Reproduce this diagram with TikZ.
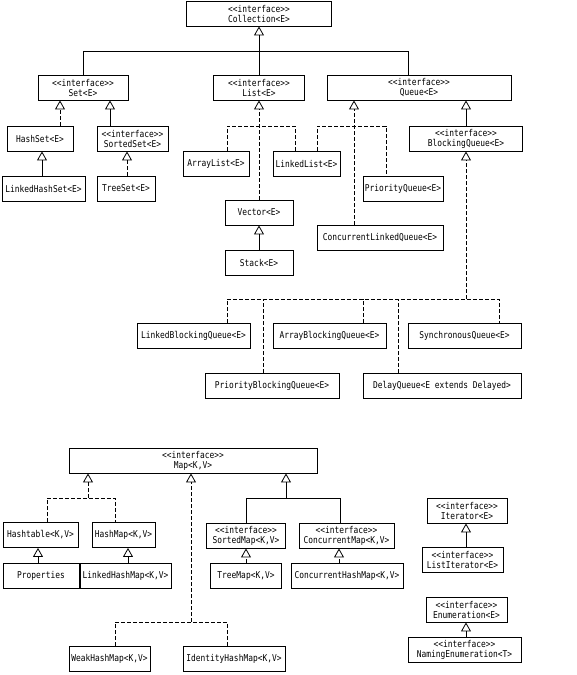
\documentclass[tikz,border=0pt]{standalone}
\usepackage{fontspec}
\setmonofont{DejaVu Sans Mono}[FakeStretch=0.84]
\usetikzlibrary{arrows.meta}
\newcommand{\iface}[1]{<{}<interface>{}>\\#1}
\tikzset{cls/.style={draw, line width=0.9pt, minimum height=25pt, inner sep=1pt,
  align=center, font=\ttfamily\fontsize{9.4}{10}\selectfont}}
\tikzset{
  ln/.style={line width=0.8pt},
  dsh/.style={ln, dash pattern=on 4pt off 2pt},
  gen/.style={ln, -{Triangle[open, length=9pt, width=10pt]}},
  real/.style={dsh, -{Triangle[open, length=9pt, width=10pt]}}
}

\begin{document}
\begin{tikzpicture}[x=1pt, y=-1pt]
  \useasboundingbox (0,0) rectangle (576,675);

  % ---- Collection and the three sub-interfaces
  \node[cls, minimum width=145pt] at (259, 13.5) (coll)  {\iface{Collection<E>}};
  \node[cls, minimum width=90pt]  at (83,  87.5) (set)   {\iface{Set<E>}};
  \node[cls, minimum width=91pt]  at (259, 87.5) (list)  {\iface{List<E>}};
  \node[cls, minimum width=184pt] at (419, 87.5) (queue) {\iface{Queue<E>}};

  % ---- sets
  \node[cls, minimum width=66pt] at (40,   138.5) (hashset)   {HashSet<E>};
  \node[cls, minimum width=71pt] at (132.5,138.5) (sortedset) {\iface{SortedSet<E>}};
  \node[cls, minimum width=83pt] at (43.5, 188.5) (lhset)     {LinkedHashSet<E>};
  \node[cls, minimum width=58pt] at (126,  188.5) (treeset)   {TreeSet<E>};

  % ---- lists
  \node[cls, minimum width=66pt] at (216,  163.5) (alist)  {ArrayList<E>};
  \node[cls, minimum width=67pt] at (306.5,163.5) (llist)  {LinkedList<E>};
  \node[cls, minimum width=68pt] at (259,  212.5) (vector) {Vector<E>};
  \node[cls, minimum width=68pt] at (259,  263)   (stack)  {Stack<E>};

  % ---- queues
  \node[cls, minimum width=80pt]  at (403, 188.5) (pqueue) {PriorityQueue<E>};
  \node[cls, minimum width=126pt] at (380, 237.5) (clq)    {ConcurrentLinkedQueue<E>};
  \node[cls, minimum width=113pt] at (466, 138.5) (bqueue) {\iface{BlockingQueue<E>}};
  \node[cls, minimum width=113pt] at (193.5,336)  (lbq)    {LinkedBlockingQueue<E>};
  \node[cls, minimum width=113pt] at (329.5,336)  (abq)    {ArrayBlockingQueue<E>};
  \node[cls, minimum width=113pt] at (464.5,336)  (syncq)  {SynchronousQueue<E>};
  \node[cls, minimum width=134pt] at (272, 385.5) (pbq)    {PriorityBlockingQueue<E>};
  \node[cls, minimum width=158pt] at (442, 385.5) (delayq) {DelayQueue<E extends Delayed>};

  % ---- maps
  \node[cls, minimum width=248pt] at (193,  460.5) (map)    {\iface{Map<K,V>}};
  \node[cls, minimum width=75pt]  at (40.5, 535)   (htable) {Hashtable<K,V>};
  \node[cls, minimum width=63pt]  at (123.5,535)   (hmap)   {HashMap<K,V>};
  \node[cls, minimum width=79pt]  at (246,  535.5) (smap)   {\iface{SortedMap<K,V>}};
  \node[cls, minimum width=95pt]  at (346.5,535.5) (cmap)   {\iface{ConcurrentMap<K,V>}};
  \node[cls, minimum width=76pt]  at (41,   576)   (props)  {Properties};
  \node[cls, minimum width=91pt]  at (125.5,576)   (lhmap)  {LinkedHashMap<K,V>};
  \node[cls, minimum width=71pt]  at (246,  576)   (tmap)   {TreeMap<K,V>};
  \node[cls, minimum width=112pt] at (347,  576)   (chmap)  {ConcurrentHashMap<K,V>};
  \node[cls, minimum width=81pt]  at (109.5,659)   (whmap)  {WeakHashMap<K,V>};
  \node[cls, minimum width=102pt] at (234,  659)   (ihmap)  {IdentityHashMap<K,V>};

  % ---- iterators
  \node[cls, minimum width=80pt]  at (467,  510.5) (iter)  {\iface{Iterator<E>}};
  \node[cls, minimum width=81pt]  at (462.5,560)   (liter) {\iface{ListIterator<E>}};
  \node[cls, minimum width=81pt]  at (466.5,609.5) (enumr) {\iface{Enumeration<E>}};
  \node[cls, minimum width=113pt] at (464.5,650)   (nenum) {\iface{NamingEnumeration<T>}};

  % junctions of the buses
  \coordinate (cbus) at (408, 51);
  \coordinate (lbus) at (295,126);
  \coordinate (qbus) at (386,126);
  \coordinate (bqL)  at (227,299);
  \coordinate (bqR)  at (499,299);
  \coordinate (hbus) at (115,498);
  \coordinate (sbus) at (340,498);
  \coordinate (wbus) at (227,622);

  % ================= Collection ================================================
  \draw[gen] (list.north) -- (coll.south);
  \draw[ln] (set.north) |- (cbus) -- (cbus |- queue.north);

  % ================= Set =======================================================
  \draw[real] (hashset.north -| 60,0)   -- (set.south -| 60,0);
  \draw[gen]  (sortedset.north -| 110,0) -- (set.south -| 110,0);
  \draw[gen]  (lhset.north -| 42,0)     -- (hashset.south -| 42,0);
  \draw[real] (treeset.north -| 127,0)  -- (sortedset.south -| 127,0);

  % ================= List ======================================================
  \draw[real] (vector.north) -- (list.south);
  \draw[dsh] (alist.north -| 227,0) |- (lbus) -- (lbus |- llist.north);
  \draw[gen] (stack.north) -- (vector.south);

  % ================= Queue =====================================================
  \draw[real] (clq.north -| 354,0) -- (queue.south -| 354,0);
  \draw[dsh] (llist.north -| 317,0) |- (qbus) -- (qbus |- pqueue.north);
  \draw[gen] (bqueue.north) -- (queue.south -| bqueue.north);

  % ================= BlockingQueue =============================================
  \draw[real] (bqR -| bqueue.south) -- (bqueue.south);
  \draw[dsh] (bqL |- lbq.north) -- (bqL) -- (bqR) -- (bqR |- syncq.north);
  \draw[dsh] (pbq.north -| 263,0)    -- (bqL -| 263,0);
  \draw[dsh] (abq.north -| 363,0)    -- (bqL -| 363,0);
  \draw[dsh] (delayq.north -| 398,0) -- (bqL -| 398,0);

  % ================= Map =======================================================
  \draw[real] (hbus -| 88,0) -- (map.south -| 88,0);
  \draw[dsh] (htable.north -| 47,0) |- (hbus) -- (hbus |- hmap.north);
  \draw[gen] (sbus -| 286,0) -- (map.south -| 286,0);
  \draw[ln] (smap.north) |- (sbus) -- (sbus |- cmap.north);
  \draw[real] (wbus -| 191,0) -- (map.south -| 191,0);
  \draw[dsh] (whmap.north -| 115,0) |- (wbus) -- (wbus |- ihmap.north);
  \draw[gen]  (props.north -| 38,0)  -- (htable.south -| 38,0);
  \draw[gen]  (lhmap.north -| 128,0) -- (hmap.south -| 128,0);
  \draw[real] (tmap.north)           -- (smap.south);
  \draw[real] (chmap.north -| 339,0) -- (cmap.south -| 339,0);

  % ================= Iterator / Enumeration ====================================
  \draw[gen] (liter.north -| 466,0) -- (iter.south -| 466,0);
  \draw[gen] (nenum.north -| 466,0) -- (enumr.south -| 466,0);

\end{tikzpicture}
\end{document}
